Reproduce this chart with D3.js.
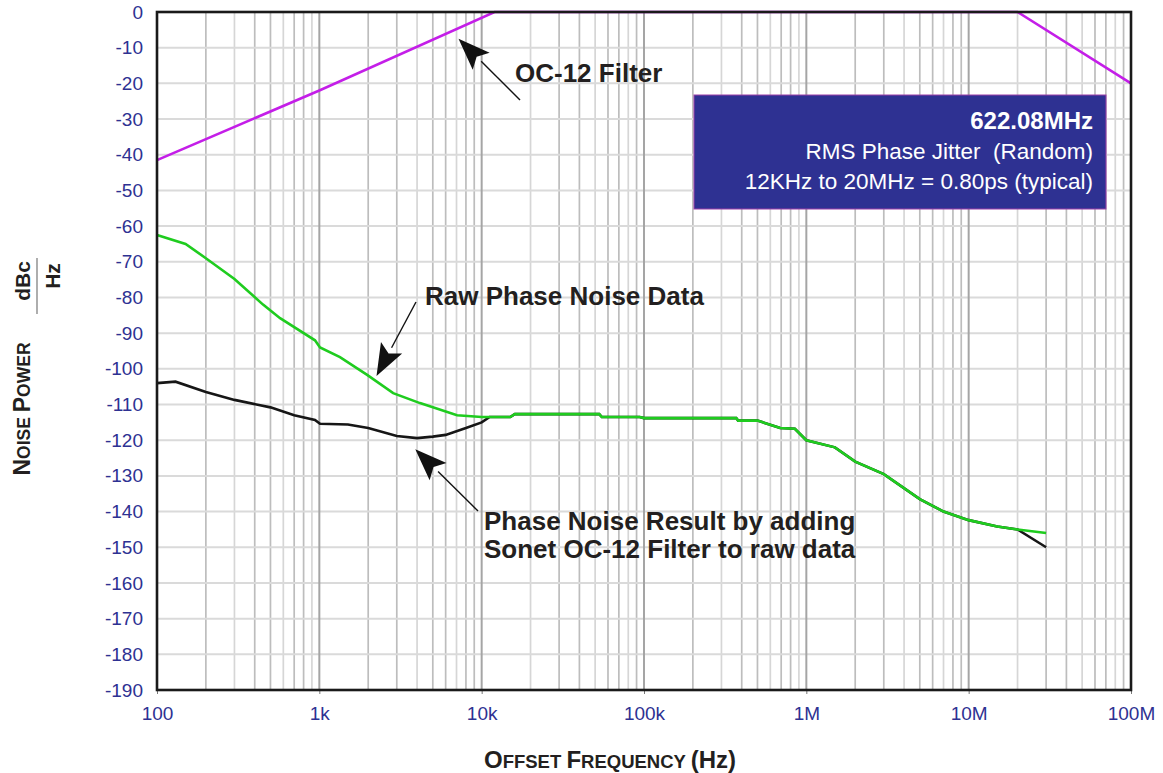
<!DOCTYPE html>
<html>
<head>
<meta charset="utf-8">
<script src="https://cdn.jsdelivr.net/npm/d3@7"></script>
<style>
  body { margin: 0; background: #fff; }
  svg { font-family: "Liberation Sans", Arial, sans-serif; }
</style>
</head>
<body>
<svg id="chart" width="1163" height="773"></svg>
<script>
// data (Hz, dBc/Hz)
const filterFreq = [100, 1000, 12000, 20e6, 100e6];
const filterDb   = [-41.5, -22, 0, 0, -20];

const rawFreq = [100, 150, 200, 300, 450, 573, 940, 1010, 1340, 1970, 2850, 4170, 7050, 10000, 15000, 16000, 53000, 55000, 94000,
                 100000, 370000, 380000, 500000, 690000, 850000, 1000000, 1500000, 2000000, 3000000, 5000000, 7000000, 10e6, 15e6, 20e6, 30e6];
const rawDb   = [-62.5, -65, -69, -74.8, -82, -85.8, -92, -94, -96.7, -101.7, -106.8, -109.6, -113, -113.5, -113.5, -112.7, -112.7, -113.5, -113.5,
                 -113.8, -113.8, -114.5, -114.5, -116.6, -116.8, -120, -122, -126, -129.5, -136.5, -140, -142.4, -144.2, -145, -146];

const resFreq = [100, 130, 200, 300, 500, 700, 940, 1010, 1500, 2000, 3000, 4000, 5000, 6000, 8000, 10000, 11200, 15000, 16000, 53000, 55000, 94000,
                 100000, 370000, 380000, 500000, 690000, 850000, 1000000, 1500000, 2000000, 3000000, 5000000, 7000000, 10e6, 15e6, 20e6, 30e6];
const resDb   = [-104, -103.6, -106.5, -108.7, -110.8, -113, -114.3, -115.4, -115.6, -116.6, -118.8, -119.4, -119, -118.5, -116.6, -115, -113.5, -113.5, -112.7, -112.7, -113.5, -113.5,
                 -113.8, -113.8, -114.5, -114.5, -116.6, -116.8, -120, -122, -126, -129.5, -136.5, -140, -142.4, -144.2, -145, -150];

const yTicks = d3.range(0, -191, -10);
const xTicks = [100, 1e3, 1e4, 1e5, 1e6, 1e7, 1e8];
const xTickLabels = ["100", "1k", "10k", "100k", "1M", "10M", "100M"];

const boxLines = ["622.08MHz", "RMS Phase Jitter\u00a0 (Random)", "12KHz to 20MHz = 0.80ps (typical)"];

let svg = d3.select("#chart"),
    margin = {top: 12, right: 32, bottom: 83, left: 157},
    width = 1163 - margin.left - margin.right,
    height = 773 - margin.top - margin.bottom;

let x = d3.scaleLog().domain([100, 1e8]).range([0, width]),
    y = d3.scaleLinear().domain([-190, 0]).range([height, 0]);

let g = svg.append("g").attr("transform", "translate(" + margin.left + "," + margin.top + ")");

// vertical grid: minors then decades
let minors = [];
for (let d = 100; d < 1e8; d *= 10) for (let m = 2; m <= 9; m++) minors.push(d * m);
g.selectAll(".vminor").data(minors).enter().append("line")
  .attr("x1", d => x(d)).attr("x2", d => x(d)).attr("y1", 0).attr("y2", height)
  .attr("stroke", (d, i) => (i % 3 === 1 ? "#d6d6d6" : "#bdbdbd")).attr("stroke-width", 1.7);
g.selectAll(".hgrid").data(yTicks).enter().append("line")
  .attr("x1", 0).attr("x2", width).attr("y1", d => y(d)).attr("y2", d => y(d))
  .attr("stroke", "#dadada").attr("stroke-width", 2);
g.selectAll(".vmajor").data(xTicks).enter().append("line")
  .attr("x1", d => x(d)).attr("x2", d => x(d)).attr("y1", 0).attr("y2", height)
  .attr("stroke", "#a5a5a5").attr("stroke-width", 2);

// axes (labels only, styled like the original)
let yAxis = g.append("g").call(d3.axisLeft(y).tickValues(yTicks).tickFormat(d => String(d)).tickSize(0).tickPadding(14));
let xAxis = g.append("g").attr("transform", "translate(0," + height + ")")
  .call(d3.axisBottom(x).tickValues(xTicks).tickFormat((d, i) => xTickLabels[i]).tickSize(4).tickPadding(13));
[yAxis, xAxis].forEach(a => {
  a.select(".domain").remove();
  a.selectAll("text").attr("fill", "#2e3192").style("font-size", "19px");
  a.selectAll("line").attr("stroke", "#777");
});

let line = d3.line().x(d => x(d[0])).y(d => y(d[1]));

g.append("path").datum(d3.zip(filterFreq, filterDb))
  .attr("d", line).attr("fill", "none").attr("stroke", "#c41ee8").attr("stroke-width", 2.6);
g.append("path").datum(d3.zip(resFreq, resDb))
  .attr("d", line).attr("fill", "none").attr("stroke", "#161616").attr("stroke-width", 2.6);
g.append("path").datum(d3.zip(rawFreq, rawDb))
  .attr("d", line).attr("fill", "none").attr("stroke", "#1fcc1f").attr("stroke-width", 2.6);

// frame
g.append("rect").attr("width", width).attr("height", height)
  .attr("fill", "none").attr("stroke", "#1a1a1a").attr("stroke-width", 2.6);

// info box
let by = 83;
g.append("rect").attr("x", 537).attr("y", by).attr("width", 412).attr("height", 114)
  .attr("fill", "#2e3192").attr("stroke", "#9b3fa8").attr("stroke-width", 1);
g.selectAll(".boxtxt").data(boxLines).enter().append("text")
  .attr("x", 936).attr("y", (d, i) => by + 34 + i * 30)
  .attr("text-anchor", "end").attr("fill", "#fff")
  .style("font-size", (d, i) => i === 0 ? "24px" : "22.5px")
  .style("font-weight", (d, i) => i === 0 ? "bold" : "normal")
  .text(d => d);

// annotations with arrows
function arrow(x1, y1, x2, y2) {
  let ang = Math.atan2(y2 - y1, x2 - x1), L = 32, W = 12;
  let bxp = x2 - L * Math.cos(ang), byp = y2 - L * Math.sin(ang);
  svg.append("line").attr("x1", x1).attr("y1", y1).attr("x2", bxp).attr("y2", byp)
    .attr("stroke", "#111").attr("stroke-width", 1.4);
  let px = -Math.sin(ang) * W, py = Math.cos(ang) * W;
  let nx = x2 - 0.8 * L * Math.cos(ang), ny = y2 - 0.8 * L * Math.sin(ang);
  svg.append("path")
    .attr("d", `M${x2},${y2}L${bxp + px},${byp + py}L${nx},${ny}L${bxp - px},${byp - py}Z`)
    .attr("fill", "#111");
}
function label(tx, ty, lines) {
  svg.selectAll(null).data(lines).enter().append("text")
    .attr("x", tx).attr("y", (d, i) => ty + i * 28)
    .attr("fill", "#231f20").style("font-size", "26px").style("font-weight", "bold")
    .text(d => d);
}
label(515, 82, ["OC-12 Filter"]);
arrow(520, 100, x(7200) + margin.left, y(-7.5) + margin.top);
label(425, 305, ["Raw Phase Noise Data"]);
arrow(416, 302, x(2250) + margin.left, y(-102) + margin.top);
label(484, 530, ["Phase Noise Result by adding", "Sonet OC-12 Filter to raw data"]);
arrow(478, 511, x(3900) + margin.left, y(-122.5) + margin.top);

// y axis title with small caps and dBc/Hz fraction
let yt = svg.append("text").attr("transform", "translate(30,409) rotate(-90)")
  .attr("text-anchor", "middle").attr("fill", "#231f20").style("font-weight", "bold").style("font-size", "23px");
yt.append("tspan").text("N");
yt.append("tspan").style("font-size", "17.5px").text("OISE ");
yt.append("tspan").text("P");
yt.append("tspan").style("font-size", "17.5px").text("OWER");
svg.append("text").attr("transform", "translate(30,281) rotate(-90)")
  .attr("text-anchor", "middle").attr("fill", "#231f20").style("font-weight", "bold").style("font-size", "21px").text("dBc");
svg.append("line").attr("x1", 37).attr("x2", 37).attr("y1", 258).attr("y2", 314)
  .attr("stroke", "#777").attr("stroke-width", 1.2);
svg.append("text").attr("transform", "translate(60,276) rotate(-90)")
  .attr("text-anchor", "middle").attr("fill", "#231f20").style("font-weight", "bold").style("font-size", "21px").text("Hz");

// x axis title
let xt = svg.append("text").attr("x", 610).attr("y", 768).attr("text-anchor", "middle")
  .attr("fill", "#231f20").style("font-weight", "bold").style("font-size", "24px");
xt.append("tspan").text("O");
xt.append("tspan").style("font-size", "18.5px").text("FFSET ");
xt.append("tspan").text("F");
xt.append("tspan").style("font-size", "18.5px").text("REQUENCY ");
xt.append("tspan").text("(Hz)");
</script>
</body>
</html>
